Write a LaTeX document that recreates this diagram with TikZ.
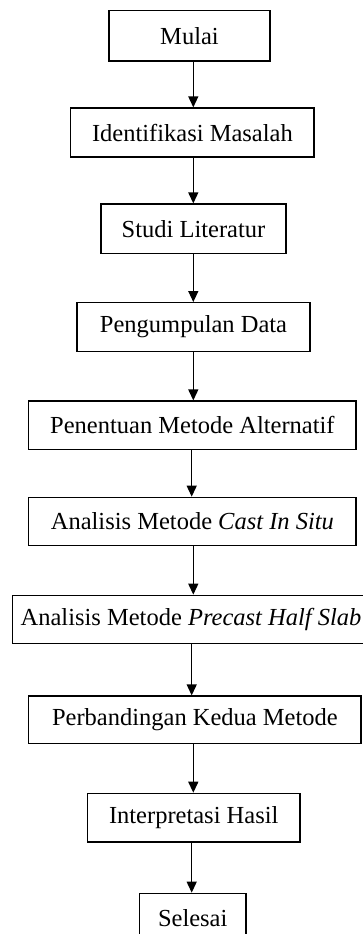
\documentclass[tikz,border=0pt]{standalone}
\usepackage{fontspec}
\setmainfont{Liberation Serif}
\usetikzlibrary{arrows.meta}
\begin{document}
\begin{tikzpicture}[x=1pt,y=-1pt,
  box/.style={draw=black, line width=1.3pt, inner sep=0pt, align=center,
    font=\fontsize{24.5}{28}\selectfont},
  arr/.style={line width=1.3pt, -{Triangle[length=11pt,width=10pt]}}]
\useasboundingbox[fill=white] (0,0) rectangle (362,934);
\node[box, minimum width=161pt, minimum height=50.3pt] (n1) at (189.5,35.9) {Mulai};
\node[box, minimum width=243.3pt, minimum height=49pt] (n2) at (192.4,132.5) {Identifikasi Masalah};
\node[box, minimum width=185pt, minimum height=49.3pt] (n3) at (193.5,228.7) {Studi Literatur};
\node[box, minimum width=233pt, minimum height=48.6pt] (n4) at (193.5,327) {Pengumpulan Data};
\node[box, minimum width=327.3pt, minimum height=48.3pt] (n5) at (192.4,425.2) {Penentuan Metode Alternatif};
\node[box, minimum width=327.3pt, minimum height=48pt] (n6) at (192.4,521.3) {Analisis Metode \textit{Cast In Situ}};
\node[box, minimum width=356.6pt, minimum height=48.4pt] (n7) at (191,619.5) {Analisis Metode \textit{Precast Half Slab}};
\node[box, minimum width=332.3pt, minimum height=47.3pt] (n8) at (194.9,719.7) {Perbandingan Kedua Metode};
\node[box, minimum width=212.7pt, minimum height=48.7pt] (n9) at (193.7,817.7) {Interpretasi Hasil};
\node[box, minimum width=106.7pt, minimum height=49pt] (n10) at (192.7,917.8) {Selesai};
\coordinate (xa) at (193.3,0);
\coordinate (xb) at (191.7,0);
\draw[arr] (n1.south -| xa) -- (n2.north -| xa);
\draw[arr] (n2.south -| xa) -- (n3.north -| xa);
\draw[arr] (n3.south -| xa) -- (n4.north -| xa);
\draw[arr] (n4.south -| xa) -- (n5.north -| xa);
\draw[arr] (n5.south -| xb) -- (n6.north -| xb);
\draw[arr] (n6.south -| xa) -- (n7.north -| xa);
\draw[arr] (n7.south -| xb) -- (n8.north -| xb);
\draw[arr] (n8.south -| xa) -- (n9.north -| xa);
\draw[arr] (n9.south -| xb) -- (n10.north -| xb);
\end{tikzpicture}
\end{document}
